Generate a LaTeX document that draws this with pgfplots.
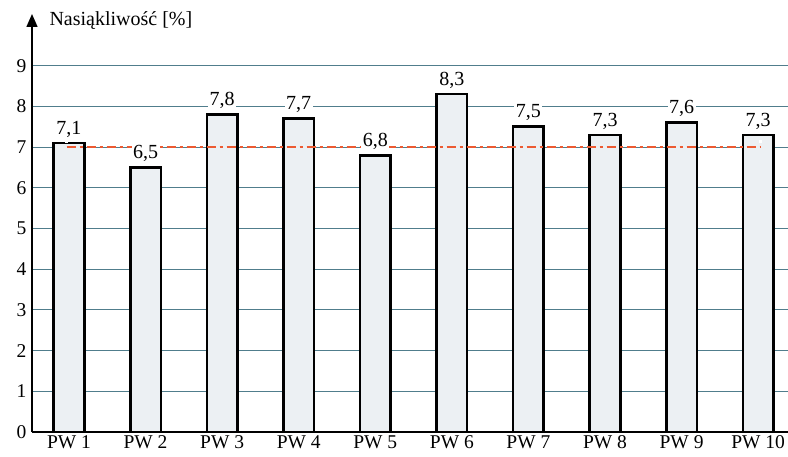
\documentclass[border=0pt]{standalone}
\usepackage{pgfplots}
\pgfplotsset{compat=1.18}
\usepackage{fontspec}
\setmainfont{Liberation Serif}
\usetikzlibrary{arrows.meta}
\definecolor{gridc}{RGB}{80,125,140}
\definecolor{redd}{RGB}{236,90,50}
\definecolor{barf}{RGB}{236,240,243}
\begin{document}
\begin{tikzpicture}
\useasboundingbox (0,0) rectangle (788pt,456pt);
\begin{axis}[
  at={(32pt,24pt)}, anchor=south west,
  scale only axis, width=756pt, height=418pt,
  xmin=0.517, xmax=10.39, ymin=0, ymax=10.27,
  axis x line=bottom, axis y line=left,
  x axis line style={-, line width=1.8pt},
  y axis line style={-{Triangle[width=11pt,length=13pt]}, line width=1.5pt},
  xtick={1,...,10},
  xticklabels={PW 1,PW 2,PW 3,PW 4,PW 5,PW 6,PW 7,PW 8,PW 9,PW 10},
  ytick={0,1,...,9},
  major tick length=0pt,
  ymajorgrids,
  grid style={gridc, line width=1.1pt},
  tick label style={font=\fontsize{19.5}{22}\selectfont},
  /pgf/number format/assume math mode=true,
  yticklabel style={xshift=-2pt},
  xticklabel style={yshift=0pt},
  ybar, bar width=0.40, bar shift=0pt,
  nodes near coords,
  every node near coord/.append style={fill=white, inner sep=1.5pt, yshift=3pt,
     font=\fontsize{20}{22}\selectfont,
     /pgf/number format/.cd, fixed, fixed zerofill, precision=1, use comma, assume math mode=true},
  clip=false,
]
\addplot[fill=barf, draw=black, line width=2.6pt] coordinates {
(1,7.1) (2,6.5) (3,7.8) (4,7.7) (5,6.8) (6,8.3) (7,7.5) (8,7.3) (9,7.6) (10,7.3)};
\addplot[sharp plot, nodes near coords={}, redd, line width=2pt, dash pattern=on 9pt off 4pt on 3pt off 4pt] coordinates {(0.97,7) (10.03,7)};
\node[anchor=west, font=\fontsize{20}{22}\selectfont] at ([xshift=14pt,yshift=-7pt]axis description cs:0,1) {Nasiąkliwość [\%]};
\end{axis}
\end{tikzpicture}
\end{document}
